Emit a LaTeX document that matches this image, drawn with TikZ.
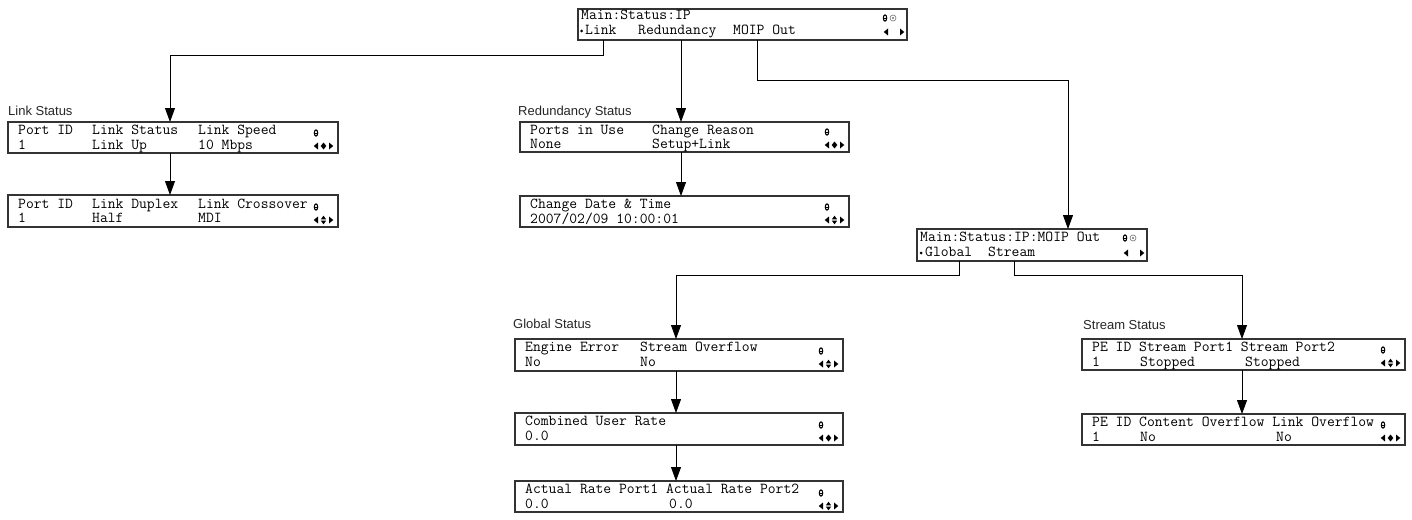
\documentclass[tikz,border=0pt]{standalone}
\usepackage{fontspec}
\setmainfont{Liberation Sans}
\usetikzlibrary{arrows.meta}
\newcommand\lefttri[2]{\fill (#1+2,#2-3.5) -- (#1+2,#2+3.5) -- (#1-2.3,#2) -- cycle;}
\newcommand\righttri[2]{\fill (#1-2,#2-3.5) -- (#1-2,#2+3.5) -- (#1+2.3,#2) -- cycle;}
\newcommand\diam[2]{\fill (#1,#2-3.5) -- (#1+2.8,#2) -- (#1,#2+3.5) -- (#1-2.8,#2) -- cycle;}
\newcommand\updown[2]{\fill (#1-2.6,#2-0.7) -- (#1+2.6,#2-0.7) -- (#1,#2-4.3) -- cycle; \fill (#1-2.6,#2+0.7) -- (#1+2.6,#2+0.7) -- (#1,#2+4.3) -- cycle;}
\newcommand\lockic[2]{\draw[line width=1.1pt] (#1,#2) ellipse (1.7 and 3.1); \draw[line width=0.7pt] (#1-1.7,#2) -- (#1+1.7,#2);}
\newcommand\gearic[2]{\draw[black!55,line width=0.6pt] (#1,#2) circle (3); \fill[black!55] (#1,#2) circle (1.1);}
% #1 right x, #2 top y, #3 middle symbol macro
\newcommand\boxicons[3]{\lockic{#1-22}{#2+11}\lefttri{#1-22}{#2+24}#3{#1-14.5}{#2+24}\righttri{#1-7}{#2+24}}
\begin{document}
\begin{tikzpicture}[x=1pt,y=-1pt,
  lcdbox/.style={draw=black!80,line width=1.7pt,fill=white,anchor=north west,inner sep=0pt,outer sep=0pt,minimum height=31pt},
  lcdtxt/.style={font=\ttfamily\fontsize{15.2}{16}\selectfont,anchor=base west,inner sep=0pt},
  lbl/.style={font=\fontsize{13}{15}\selectfont,text=black!85,anchor=base west,inner sep=0pt},
  arr/.style={line width=0.8pt,-{Triangle[width=10pt,length=14pt]}}]
\useasboundingbox (0,0) rectangle (1412,519);
% boxes
\node[lcdbox,minimum width=329pt] (top) at (578,9) {};
\node[lcdbox,minimum width=330pt] (lnk1) at (8,122) {};
\node[lcdbox,minimum width=330pt,minimum height=32pt] (lnk2) at (8,195) {};
\node[lcdbox,minimum width=329pt,minimum height=30pt] (red1) at (520,122) {};
\node[lcdbox,minimum width=329pt] (red2) at (520,196) {};
\node[lcdbox,minimum width=230pt,minimum height=32pt] (moip) at (917,229) {};
\node[lcdbox,minimum width=328pt,minimum height=32pt] (glb1) at (515,339) {};
\node[lcdbox,minimum width=328pt,minimum height=32pt] (glb2) at (515,413) {};
\node[lcdbox,minimum width=328pt] (glb3) at (515,481) {};
\node[lcdbox,minimum width=323pt] (str1) at (1082,339) {};
\node[lcdbox,minimum width=323pt] (str2) at (1082,414) {};
% labels
\node[lbl] (L1) at (8,115) {Link Status};
\node[lbl] (L2) at (518,115) {Redundancy Status};
\node[lbl] (L3) at (513,328) {Global Status};
\node[lbl] (L4) at (1083,329) {Stream Status};
% connector coordinates
\coordinate (xl) at (170,0);
\coordinate (xr) at (681,0);
\coordinate (xm) at (1068,0);
\coordinate (xg) at (676,0);
\coordinate (xs) at (1242,0);
\coordinate (j1) at (603,55);
\coordinate (j2) at (757,80);
\coordinate (j3) at (959,275);
\coordinate (j4) at (1014,275);
\draw[arr] (top.south -| j1) -- (j1) -| (lnk1.north -| xl);
\draw[arr] (top.south -| xr) -- (red1.north -| xr);
\draw[arr] (top.south -| j2) -- (j2) -| (moip.north -| xm);
\draw[arr] (lnk1.south -| xl) -- (lnk2.north -| xl);
\draw[arr] (red1.south -| xr) -- (red2.north -| xr);
\draw[arr] (moip.south -| j3) -- (j3) -| (glb1.north -| xg);
\draw[arr] (moip.south -| j4) -- (j4) -| (str1.north -| xs);
\draw[arr] (glb1.south -| xg) -- (glb2.north -| xg);
\draw[arr] (glb2.south -| xg) -- (glb3.north -| xg);
\draw[arr] (str1.south -| xs) -- (str2.north -| xs);
% top box
\node[lcdtxt] (ta) at (581,20) {Main:Status:IP};
\fill (581.5,31) circle (1.5);
\node[lcdtxt] (tb) at (585,35) {Link};
\node[lcdtxt] (tc) at (638,35) {Redundancy};
\node[lcdtxt] (td) at (733,35) {MOIP Out};
\lockic{885}{18}\gearic{893}{18}
\lefttri{886}{32}\righttri{902}{32}
% link status
\node[lcdtxt] (a1) at (18,134) {Port ID};
\node[lcdtxt] (a2) at (92,134) {Link Status};
\node[lcdtxt] (a3) at (198,134) {Link Speed};
\node[lcdtxt] (a4) at (18,149) {1};
\node[lcdtxt] (a5) at (92,149) {Link Up};
\node[lcdtxt] (a6) at (198,149) {10 Mbps};
\boxicons{338}{122}{\diam}
\node[lcdtxt] (b1) at (18,208) {Port ID};
\node[lcdtxt] (b2) at (92,208) {Link Duplex};
\node[lcdtxt] (b3) at (198,208) {Link Crossover};
\node[lcdtxt] (b4) at (18,222) {1};
\node[lcdtxt] (b5) at (92,222) {Half};
\node[lcdtxt] (b6) at (198,222) {MDI};
\boxicons{338}{196}{\updown}
% redundancy
\node[lcdtxt] (c1) at (530,134) {Ports in Use};
\node[lcdtxt] (c2) at (652,134) {Change Reason};
\node[lcdtxt] (c3) at (530,148) {None};
\node[lcdtxt] (c4) at (652,148) {Setup+Link};
\boxicons{849}{121}{\diam}
\node[lcdtxt] (d1) at (530,208) {Change Date \& Time};
\node[lcdtxt] (d2) at (530,223) {2007/02/09 10:00:01};
\boxicons{849}{196}{\updown}
% moip
\node[lcdtxt] (m1) at (920,241) {Main:Status:IP:MOIP Out};
\fill (921,253) circle (1.5);
\node[lcdtxt] (m2) at (925,256) {Global};
\node[lcdtxt] (m3) at (988,256) {Stream};
\lockic{1125}{238}\gearic{1133}{238}
\lefttri{1126}{253}\righttri{1142}{253}
% global
\node[lcdtxt] (g1) at (525,351) {Engine Error};
\node[lcdtxt] (g2) at (640,351) {Stream Overflow};
\node[lcdtxt] (g3) at (525,366) {No};
\node[lcdtxt] (g4) at (640,366) {No};
\boxicons{843}{340}{\updown}
\node[lcdtxt] (g5) at (525,425) {Combined User Rate};
\node[lcdtxt] (g6) at (525,440) {0.0};
\boxicons{843}{414}{\diam}
\node[lcdtxt] (g7) at (525,493) {Actual Rate Port1 Actual Rate Port2};
\node[lcdtxt] (g8) at (525,508) {0.0};
\node[lcdtxt] (g9) at (669,508) {0.0};
\boxicons{843}{482}{\updown}
% stream
\node[lcdtxt] (s1) at (1092,351) {PE ID Stream Port1 Stream Port2};
\node[lcdtxt] (s2) at (1092,366) {1};
\node[lcdtxt] (s3) at (1140,366) {Stopped};
\node[lcdtxt] (s4) at (1245,366) {Stopped};
\boxicons{1405}{339}{\updown}
\node[lcdtxt] (s5) at (1092,426) {PE ID Content Overflow Link Overflow};
\node[lcdtxt] (s6) at (1092,441) {1};
\node[lcdtxt] (s7) at (1140,441) {No};
\node[lcdtxt] (s8) at (1276,441) {No};
\boxicons{1405}{414}{\diam}
\end{tikzpicture}
\end{document}
